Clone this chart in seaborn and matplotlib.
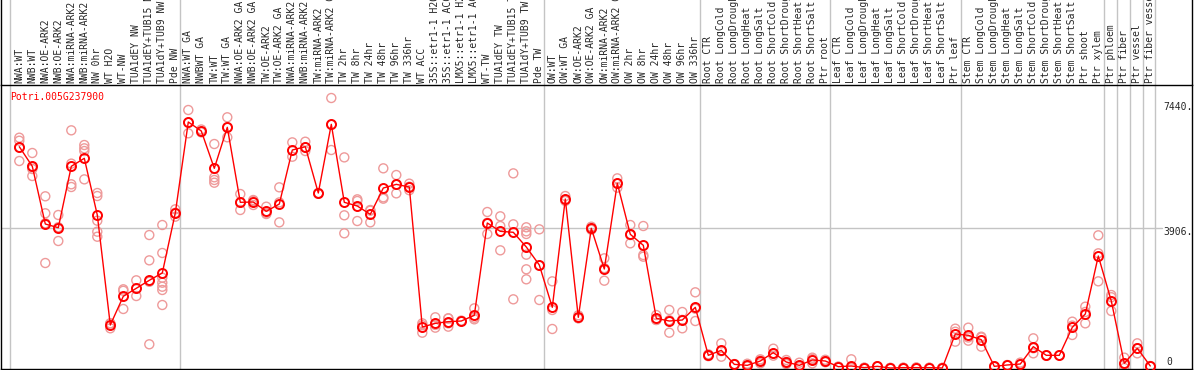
import numpy as np
import pandas as pd
import matplotlib
matplotlib.use('Agg')
import matplotlib.pyplot as plt
import seaborn as sns

gene = 'Potri.005G237900'

samples = [
    'NWA:WT', 'NWB:WT', 'NWA:OE-ARK2', 'NWB:OE-ARK2', 'NWA:miRNA-ARK2', 'NWB:miRNA-ARK2',
    'NW 0hr', 'WT H2O', 'WT-NW', 'TUA1dEY NW', 'TUA1dEY+TUB15 NW', 'TUA1dY+TUB9 NW', 'Pde NW',
    'NWA:WT GA', 'NWBWT GA', 'TW:WT', 'TW:WT GA', 'NWA:OE-ARK2 GA', 'NWB:OE-ARK2 GA',
    'TW:OE-ARK2', 'TW:OE-ARK2 GA', 'NWA:miRNA-ARK2 GA', 'NWB:miRNA-ARK2 GA', 'TW:miRNA-ARK2',
    'TW:miRNA-ARK2 GA', 'TW 2hr', 'TW 8hr', 'TW 24hr', 'TW 48hr', 'TW 96hr', 'TW 336hr',
    'WT ACC', '35S::etr1-1 H2O', '35S::etr1-1 ACC', 'LMX5::etr1-1 H2O', 'LMX5::etr1-1 ACC',
    'WT-TW', 'TUA1dEY TW', 'TUA1dEY+TUB15 TW', 'TUA1dY+TUB9 TW', 'Pde TW',
    'OW:WT', 'OW:WT GA', 'OW:OE-ARK2', 'OW:OE-ARK2 GA', 'OW:miRNA-ARK2', 'OW:miRNA-ARK2 GA',
    'OW 2hr', 'OW 8hr', 'OW 24hr', 'OW 48hr', 'OW 96hr', 'OW 336hr',
    'Root CTR', 'Root LongCold', 'Root LongDrought', 'Root LongHeat', 'Root LongSalt',
    'Root ShortCold', 'Root ShortDrought', 'Root ShortHeat', 'Root ShortSalt', 'Ptr root',
    'Leaf CTR', 'Leaf LongCold', 'Leaf LongDrought', 'Leaf LongHeat', 'Leaf LongSalt',
    'Leaf ShortCold', 'Leaf ShortDrought', 'Leaf ShortHeat', 'Leaf ShortSalt', 'Ptr leaf',
    'Stem CTR', 'Stem LongCold', 'Stem LongDrought', 'Stem LongHeat', 'Stem LongSalt',
    'Stem ShortCold', 'Stem ShortDrought', 'Stem ShortHeat', 'Stem ShortSalt',
    'Ptr shoot', 'Ptr xylem', 'Ptr phloem', 'Ptr fiber', 'Ptr vessel', 'Ptr fiber vessel',
]

means = [
    6161, 5615, 4009, 3906, 5615, 5838, 4260, 1197, 1996, 2219, 2441, 2645, 4315,
    6849, 6598, 5559, 6701, 4613, 4621, 4362, 4566, 6069, 6161, 4872, 6784,
    4613, 4510, 4278, 5011, 5113, 5039, 1141, 1243, 1290, 1308, 1466,
    4037, 3805, 3778, 3369, 2868,
    1689, 4705, 1411, 3889, 2756, 5142, 3722, 3416, 1383, 1308, 1336, 1689,
    353, 492, 102, 74, 195, 427, 167, 74, 223, 195,
    37, 56, 10, 46, 0, 10, 10, 10, 0, 947,
    910, 788, 46, 84, 111, 594, 353, 353, 1132, 1503, 3118,
    1865, 130, 547, 56,
]

replicates = [
    [6412, 6328, 5763, 6140], [5986, 5540, 5345, 5590], [4780, 4307, 2923, 4030],
    [4260, 3536, 3920], [6617, 5114, 5039, 5690], [6208, 6116, 6041, 5252],
    [4872, 4788, 4101, 3795, 3655], [1243, 1105, 1240], [2191, 1643, 2150],
    [2441, 2004, 2210], [3702, 2997, 660, 2400],
    [3981, 3202, 2514, 2375, 2263, 2172, 1754], [4418, 4213, 4320],
    [7183, 6534, 6830], [6640, 6560], [6236, 5309, 5234, 5159], [6980, 6423, 6700],
    [4844, 4399, 4600], [4677, 4538, 4650], [4491, 4287, 4310], [5030, 4055, 4610],
    [6282, 5882], [6300, 6041, 6140], [4872, 4850], [7517, 6069, 6770],
    [5864, 4251, 3750], [4696, 4650, 4092], [4399, 4055, 4380], [5559, 4751, 4714],
    [5373, 4862, 5100], [5132, 5048, 4950], [1243, 983, 1190], [1411, 1123, 1200],
    [1383, 1243, 1151, 1380], [1320, 1300], [1661, 1355, 1400],
    [4343, 3731, 4040], [4223, 3953, 3276], [5419, 4000, 1912],
    [3917, 3805, 3731, 3155, 2748, 2469], [3861, 1893, 2850],
    [2413, 1615, 1086], [4788, 4677, 4650], [1466, 1383, 1390], [3934, 3850, 3880],
    [3054, 2431, 2780], [5280, 5020, 5130], [3981, 3471, 3700], [3953, 3146, 3099],
    [1475, 1336, 1340], [1615, 983, 1330], [1559, 1105, 1340], [2107, 1308, 1650],
    [380, 330, 350], [687, 315, 470], [110, 95], [120, 40, 60], [242, 130, 210],
    [538, 343, 400], [223, 111, 170], [148, 56, 20], [288, 130, 250], [195, 160, 230],
    [40, 30], [242, 20, 0], [10, 5], [46, 40], [5, 0], [10, 5], [10, 15], [10, 5], [5, 0],
    [1095, 733, 1010],
    [1123, 761, 850], [872, 594, 850], [46, 30], [84, 70], [111, 150], [826, 408, 550],
    [353, 340], [353, 350], [1290, 919, 1180], [1707, 1243, 1560], [3694, 3193, 2413],
    [2032, 1587, 1970], [288, 0, 100], [687, 408, 550], [56, 40],
]

# separators between sample groups (index units)
group_edges = [-0.7, 12.36, 40.36, 52.36, 62.36, 72.4, 83.44, 84.44, 85.44, 86.44, 87.36]
y_marks = [0, 3906, 7440]

mean_df = pd.DataFrame({'pos': np.arange(len(samples)), 'expr': means})
rep_df = pd.DataFrame(
    [(i, v) for i, vals in enumerate(replicates) for v in vals],
    columns=['pos', 'expr'])

sns.set_style('white')
plt.rcParams['font.family'] = ['DejaVu Sans Mono']

W, H = 1194, 370
fig = plt.figure(figsize=(W / 100, H / 100), dpi=100)
ax = fig.add_axes([1 / W, 1.5 / H, 1191 / W, 284 / H])

sns.scatterplot(data=rep_df, x='pos', y='expr', ax=ax, marker='o', s=42,
                facecolors='none', edgecolor='#ee9a9a', linewidth=1.0, zorder=2)
sns.lineplot(data=mean_df, x='pos', y='expr', ax=ax, color='red', lw=1,
             marker='o', markersize=6.5, markerfacecolor='none',
             markeredgecolor='red', markeredgewidth=1.4, zorder=3)

ax.set_xlim((1 - 19.3) / 13, (1192 - 19.3) / 13)
ax.set_ylim(-14, 7893)
ax.set_xticks([])
ax.set_yticks([])
ax.set_xlabel('')
ax.set_ylabel('')
for sp in ax.spines.values():
    sp.set_color('black')
    sp.set_linewidth(1)

top = 370 / 284
ax.vlines(group_edges, 0, top, transform=ax.get_xaxis_transform(),
          colors='#c4c4c4', lw=1, clip_on=False, zorder=1)
ax.axhline(y_marks[1], xmin=0, xmax=(1162 - 1) / 1191, color='#c4c4c4', lw=1, zorder=1)
for xa in (0, 1):
    ax.plot([xa, xa], [1, top], transform=ax.transAxes, color='black', lw=1, clip_on=False)

for i, s in enumerate(samples):
    ax.text(i, 1 + 1.5 / 284, s, rotation=90, ha='center', va='bottom', fontsize=7,
            transform=ax.get_xaxis_transform(), clip_on=False)

ax.text(9 / 1191, (368.5 - 97) / 284, gene, color='red', fontsize=7,
        ha='left', va='center', transform=ax.transAxes)

offsets = {0: 4.5, 3906: -3.3, 7440: -4.3}
for v in y_marks:
    lab = str(v) if v == 0 else f'{v}.'
    xa = (1166 - 1) / 1191 if v == 0 else (1163 - 1) / 1191
    ax.annotate(lab, xy=(xa, v), xycoords=('axes fraction', 'data'),
                xytext=(0, offsets[v]), textcoords='offset points',
                ha='left', va='center', fontsize=7)

fig.savefig('out.png', dpi=100)
